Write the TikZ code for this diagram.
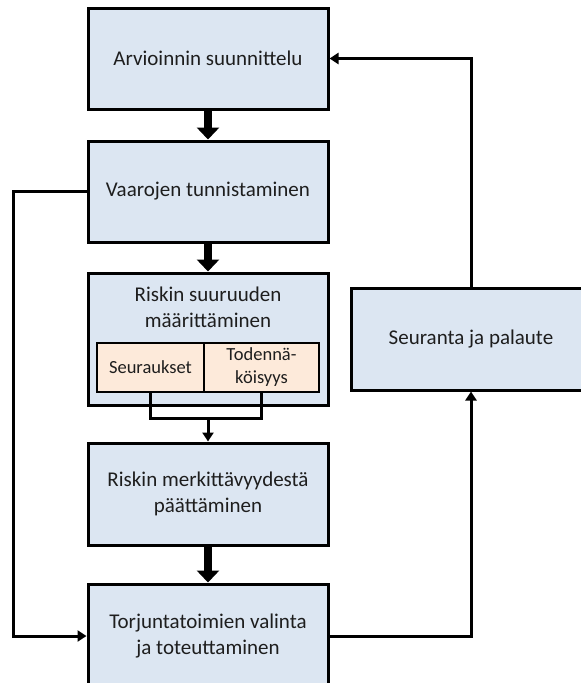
\documentclass[tikz,border=0pt]{standalone}
\usepackage{fontspec}
\setmainfont{Carlito}
\usetikzlibrary{arrows.meta}
\definecolor{boxblue}{HTML}{DCE6F2}
\definecolor{boxpeach}{HTML}{FDEADA}
\definecolor{txtgrey}{HTML}{1E1E1E}

\tikzset{
  stagebox/.style={draw=black, line width=3pt, fill=boxblue, text=txtgrey,
    minimum width=240pt, inner sep=0pt, align=center,
    font=\fontsize{21}{26}\selectfont},
  partbox/.style={draw=black, line width=2.6pt, fill=boxpeach, text=txtgrey,
    minimum height=49pt, inner sep=0pt, align=center,
    font=\fontsize{18.5}{23}\selectfont},
  fatarrow/.style={line width=8pt, -{Triangle[width=22pt,length=12pt]}},
  thinarrow/.style={line width=3pt, -{Triangle[width=11pt,length=9pt]}},
}

\begin{document}
\begin{tikzpicture}[x=1pt,y=-1pt]
  \useasboundingbox (0,0) rectangle (581,683);

  % main chain
  \node[stagebox, minimum height=101pt] (plan) at (208,58.5) {Arvioinnin suunnittelu};
  \node[stagebox, minimum height=101pt] (haz) at (208,191.5) {Vaarojen tunnistaminen};
  \node[stagebox, minimum height=132pt] (size) at (208,339) {};
  \node[text=txtgrey, align=center, font=\fontsize{21}{26}\selectfont] (sizetxt)
    at (208,307) {Riskin suuruuden\\määrittäminen};
  \node[partbox, minimum width=107pt] (seur) at (150.5,367.5) {Seuraukset};
  \node[partbox, minimum width=115pt] (tod) at (261.5,367.5) {Todennä-\\köisyys};
  \node[stagebox, minimum height=102pt] (merk) at (208,494) {Riskin merkittävyydestä\\päättäminen};
  \node[stagebox, minimum height=104pt] (torj) at (208,636) {Torjuntatoimien valinta\\ja toteuttaminen};
  \node[stagebox, minimum height=102pt] (seuranta) at (471,339) {Seuranta ja palaute};

  \draw[fatarrow] (plan.south) -- (haz.north);
  \draw[fatarrow] (haz.south) -- (size.north);
  \draw[fatarrow] (merk.south) -- (torj.north);

  % bracket from the two parts
  \coordinate (join) at (208,418);
  \draw[line width=3pt] (seur.south) |- (join) -| (tod.south);
  \draw[thinarrow] (join) -- (merk.north);

  % loops
  \draw[thinarrow] (haz.west) -- ++(-73,0) |- (torj.west);
  \draw[thinarrow] (torj.east) -| (seuranta.south);
  \draw[thinarrow] (seuranta.north) |- (plan.east);
\end{tikzpicture}
\end{document}
